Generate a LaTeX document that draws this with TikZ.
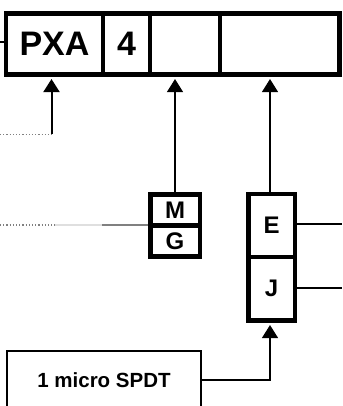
\documentclass[tikz,border=0pt]{standalone}
\usepackage{fontspec}
\setmainfont{Liberation Sans}
\usetikzlibrary{arrows.meta,positioning,calc}
\tikzset{
    codecell/.style={draw, line width=4.5pt, inner sep=0pt, font=\fontsize{34}{40}\selectfont\bfseries,
        minimum height=61pt},
    optcell/.style={draw, line width=4.5pt, inner sep=0pt, font=\fontsize{24}{28}\selectfont\bfseries},
    codearrow/.style={-{Triangle[length=13pt,width=16pt]}, line width=1.1pt},
    feedline/.style={line width=1.3pt}
}

\begin{document}
\begin{tikzpicture}[x=1pt, y=-1pt]
\clip (0,0) rectangle (342,406);
\useasboundingbox (0,0) rectangle (342,406);
% part number boxes
\node[codecell, minimum width=97pt] (pxa) at (54.5,44) {PXA};
\node[codecell, minimum width=47pt] (size) at (126.5,44) {4};
\node[codecell, minimum width=70pt] (mount) at (185,44) {};
\node[codecell, minimum width=119.5pt] (opt) at (279.75,44) {};
% option boxes
\node[optcell, minimum width=49.5pt, minimum height=31.25pt] (m) at (175,209.9) {M};
\node[optcell, minimum width=49.5pt, minimum height=31.25pt] (g) at (175,241.1) {G};
\node[optcell, minimum width=46.5pt, minimum height=62.75pt] (e) at (271.5,225.6) {E};
\node[optcell, minimum width=46.5pt, minimum height=63.5pt] (j) at (271.5,288.75) {J};
\node[draw, line width=1.3pt, minimum width=194pt, minimum height=58pt, inner sep=0pt,
    font=\fontsize{20.5}{24}\selectfont\bfseries] (spdt) at (104,380) {1 micro SPDT};
% free ends
\coordinate (stub) at (0,42);
\coordinate (pxafeed) at (0,134.5);
\coordinate (pxaturn) at (51.5,134.5);
\coordinate (mgfeed) at (0,225);
\coordinate (mgmid1) at (55,225);
\coordinate (mgmid2) at (102,225);
\coordinate (eout) at (342,224);
\coordinate (jout) at (342,288);
% connectors
\draw[feedline] (stub) -- (stub -| pxa.west);
\draw[gray, dotted, line width=1.2pt] (pxafeed) -- (pxaturn);
\draw[codearrow, line width=2pt, shorten >=2.3pt] (pxaturn) -- (pxaturn |- pxa.south);
\draw[codearrow, shorten >=2.3pt] (m.north) -- (m.north |- mount.south);
\draw[codearrow, shorten >=2.3pt] ([xshift=-1.5pt]e.north) -- ([xshift=-1.5pt]e.north |- opt.south);
\draw[gray, dotted, line width=1.2pt] (mgfeed) -- (mgmid1);
\draw[gray!25, line width=1.2pt] (mgmid1) -- (mgmid2);
\draw[gray, line width=1.2pt] (mgmid2) -- (mgmid2 -| m.west);
\draw[feedline] (e.east |- eout) -- (eout);
\draw[feedline] (j.east |- jout) -- (jout);
\draw[codearrow, line width=1.3pt, shorten >=2.3pt] (spdt.east) -| ([xshift=-1.5pt]j.south);
\end{tikzpicture}
\end{document}
